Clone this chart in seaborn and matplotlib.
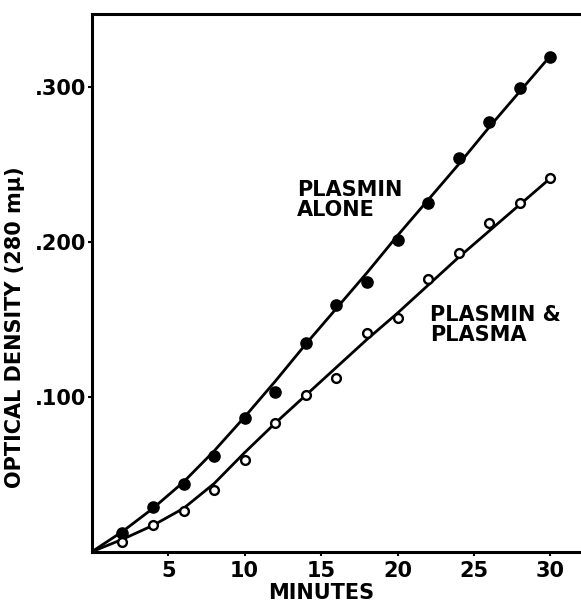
import matplotlib
matplotlib.use("Agg")
import matplotlib.pyplot as plt
import seaborn as sns
import pandas as pd

# Measured points
minutes = [2, 4, 6, 8, 10, 12, 14, 16, 18, 20, 22, 24, 26, 28, 30]
plasmin_alone = [0.012, 0.029, 0.044, 0.062, 0.086, 0.103, 0.135, 0.159, 0.174,
                 0.201, 0.225, 0.254, 0.277, 0.299, 0.319]
plasmin_plasma = [0.006, 0.017, 0.026, 0.040, 0.059, 0.083, 0.101, 0.112, 0.141,
                  0.151, 0.176, 0.193, 0.212, 0.225, 0.241]

# Drawn (fitted) curves
curve_minutes = [0, 2, 4, 6, 8, 10, 12, 14, 16, 18, 20, 22, 24, 26, 28, 30]
curve_alone = [0.0, 0.013, 0.028, 0.045, 0.065, 0.087, 0.110, 0.134, 0.157, 0.180,
               0.204, 0.227, 0.250, 0.274, 0.297, 0.320]
curve_plasma = [0.0, 0.008, 0.017, 0.028, 0.044, 0.064, 0.083, 0.101, 0.119, 0.137,
                0.154, 0.172, 0.190, 0.207, 0.224, 0.241]

x_ticks = [5, 10, 15, 20, 25, 30]
y_ticks = [0.1, 0.2, 0.3]
y_tick_labels = [".100", ".200", ".300"]

sns.set_style("ticks")
plt.rcParams['font.family'] = ['DejaVu Sans']
plt.rcParams['text.color'] = 'black'
plt.rcParams['axes.labelcolor'] = 'black'
plt.rcParams['xtick.color'] = 'black'
plt.rcParams['ytick.color'] = 'black'

fig = plt.figure(figsize=(5.81, 6.05), dpi=100)
ax = fig.add_axes([0.158, 0.088, 0.842, 0.889])

pts = pd.DataFrame({"min": minutes, "alone": plasmin_alone, "plasma": plasmin_plasma})
cur = pd.DataFrame({"min": curve_minutes, "alone": curve_alone, "plasma": curve_plasma})

sns.lineplot(data=cur, x="min", y="alone", ax=ax, color="black", lw=2.0)
sns.lineplot(data=cur, x="min", y="plasma", ax=ax, color="black", lw=2.0)
sns.scatterplot(data=pts, x="min", y="alone", ax=ax, color="black", s=65,
                edgecolor="black", linewidth=1, zorder=3)
sns.scatterplot(data=pts, x="min", y="plasma", ax=ax, facecolor="white", s=40,
                edgecolor="black", linewidth=1.7, zorder=3)

ax.set_xlim(0, 32)
ax.set_ylim(0, 0.347)
ax.set_xticks(x_ticks)
ax.set_yticks(y_ticks)
ax.set_yticklabels(y_tick_labels)
ax.tick_params(axis="y", labelsize=15, length=3, width=1.5, pad=1,
               color="black", labelcolor="black")
ax.tick_params(axis="x", labelsize=15, length=3, width=1.5, pad=4,
               color="black", labelcolor="black")
for lab in ax.get_xticklabels() + ax.get_yticklabels():
    lab.set_fontweight("bold")

for side in ["left", "bottom", "top"]:
    ax.spines[side].set_linewidth(2.2)
    ax.spines[side].set_color("black")
ax.spines["right"].set_visible(False)

ax.set_xlabel("MINUTES", fontsize=15, fontweight="bold", color="black")
ax.xaxis.set_label_coords(0.468, -0.058)
ax.set_ylabel("OPTICAL DENSITY (280 mμ)", fontsize=15, fontweight="bold", color="black")
ax.yaxis.set_label_coords(-0.137, 0.418)

ax.text(13.4, 0.240, "PLASMIN\nALONE", fontsize=15, fontweight="bold",
        va="top", ha="left", linespacing=1.0, color="black")
ax.text(22.1, 0.159, "PLASMIN &\nPLASMA", fontsize=15, fontweight="bold",
        va="top", ha="left", linespacing=1.0, color="black")

fig.savefig("out.png", dpi=100)
